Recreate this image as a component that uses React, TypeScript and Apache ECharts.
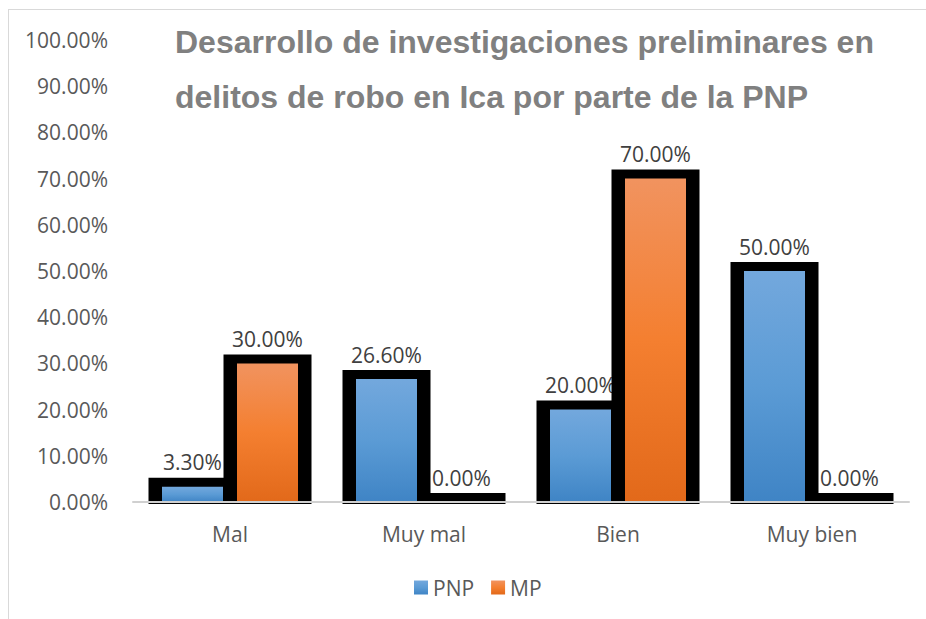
import React, { useEffect, useRef } from "react";
import * as echarts from "echarts";

const categories = ["Mal", "Muy mal", "Bien", "Muy bien"];
const pnpValues = [3.3, 26.6, 20, 50];
const mpValues = [30, 0, 70, 0];
const seriesNames = ["PNP", "MP"];
const titleLines = [
  "Desarrollo de investigaciones preliminares en",
  "delitos de robo en Ica por parte de la PNP",
];

const FONT = "'Open Sans', 'Noto Sans', sans-serif";

export default function App() {
  const ref = useRef<HTMLDivElement>(null);
  useEffect(() => {
    if (!ref.current) return;
    const chart = echarts.init(ref.current, null, { renderer: "svg" });
    const blue = new echarts.graphic.LinearGradient(0, 0, 0, 1, [
      { offset: 0, color: "#73a8dd" },
      { offset: 0.5, color: "#5b9bd5" },
      { offset: 1, color: "#3f84c5" },
    ]);
    const orange = new echarts.graphic.LinearGradient(0, 0, 0, 1, [
      { offset: 0, color: "#f1935f" },
      { offset: 0.5, color: "#f47f30" },
      { offset: 1, color: "#e2691a" },
    ]);
    const makeRender = (side: number, fill: any) => (params: any, api: any) => {
      const idx = api.value(0);
      const val = api.value(1);
      const top = api.coord([idx, val]);
      const base = api.coord([idx, 0]);
      const cx = top[0] + side * 37.5;
      const ty = top[1];
      const by = base[1];
      return {
        type: "group",
        children: [
          {
            type: "rect",
            shape: { x: cx - 44, y: ty - 9, width: 88, height: by - ty + 11 },
            style: { fill: "#000" },
          },
          {
            type: "rect",
            shape: { x: cx - 30.5, y: ty, width: 61, height: by - ty },
            style: { fill },
          },
          {
            type: "text",
            x: cx,
            y: ty - 24.5,
            style: {
              text: Number(val).toFixed(2) + "%",
              textAlign: "center",
              textVerticalAlign: "middle",
              fontSize: 21,
              fontFamily: FONT,
              fill: "#404040",
            },
          },
        ],
      };
    };
    chart.setOption({
      animation: false,
      title: {
        text: titleLines.join("\n"),
        left: 166,
        top: 4,
        padding: 0,
        textStyle: {
          fontFamily: "'Liberation Sans', Arial, sans-serif",
          fontWeight: "bold",
          fontSize: 32,
          lineHeight: 55,
          color: "#808080",
        },
      },
      legend: {
        data: seriesNames,
        left: 400,
        top: 562,
        icon: "rect",
        itemWidth: 14,
        itemHeight: 14,
        itemGap: 17,
        itemStyle: { borderWidth: 0 },
        textStyle: { fontSize: 21, fontFamily: FONT, color: "#595959" },
      },
      grid: { left: 124, right: 17, top: 30, bottom: 117, containLabel: false },
      xAxis: {
        type: "category",
        data: categories,
        z: 5,
        axisTick: { show: false },
        axisLine: { lineStyle: { color: "#d0d0d0", width: 2 } },
        axisLabel: { fontSize: 21, fontFamily: FONT, color: "#595959", margin: 21 },
      },
      yAxis: {
        type: "value",
        min: 0,
        max: 100,
        interval: 10,
        splitLine: { show: false },
        axisLine: { show: false },
        axisTick: { show: false },
        axisLabel: {
          fontSize: 21,
          fontFamily: FONT,
          color: "#595959",
          margin: 25,
          formatter: (v: number) => v.toFixed(2) + "%",
        },
      },
      series: [
        {
          name: seriesNames[0],
          type: "custom",
          data: pnpValues.map((v, i) => [i, v]),
          encode: { x: 0, y: 1 },
          itemStyle: { color: blue },
          renderItem: makeRender(-1, blue),
        },
        {
          name: seriesNames[1],
          type: "custom",
          data: mpValues.map((v, i) => [i, v]),
          encode: { x: 0, y: 1 },
          itemStyle: { color: orange },
          renderItem: makeRender(1, orange),
        },
      ],
    });
    return () => chart.dispose();
  }, []);
  return (
    <div
      style={{
        position: "fixed",
        left: 8,
        top: 9,
        width: 918,
        height: 610,
        borderLeft: "1px solid #d9d9d9",
        borderTop: "1px solid #d9d9d9",
        overflow: "hidden",
        background: "#fff",
      }}
    >
      <div ref={ref} style={{ width: 917, height: 609 }} />
    </div>
  );
}
